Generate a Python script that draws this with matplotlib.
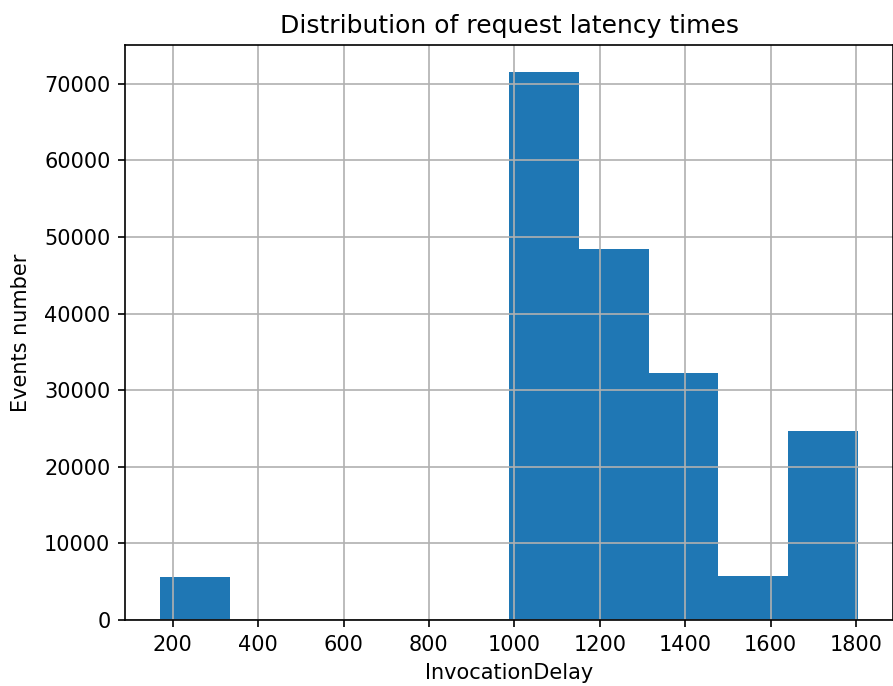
import numpy as np
import matplotlib
matplotlib.use("Agg")
import matplotlib.pyplot as plt

# Histogram of invocation delays: 10 equal-width bins
delay_min = 170.0
delay_max = 1805.0
n_bins = 10
bin_counts = [5650, 0, 0, 0, 0, 71480, 48400, 32200, 5700, 24700]

bin_edges = np.linspace(delay_min, delay_max, n_bins + 1)
bin_left = bin_edges[:-1]

DPI = 150
W, H = 893, 686
fig = plt.figure(figsize=(W / DPI, H / DPI), dpi=DPI)
ax = fig.add_axes([125 / W, 66 / H, 768 / W, 575 / H])

ax.hist(bin_left, bins=bin_edges, weights=bin_counts, color="#1f77b4")
ax.grid(True)
ax.set_title("Distribution of request latency times")
ax.set_xlabel("InvocationDelay")
ax.set_ylabel("Events number", labelpad=6.5)
ax.set_xticks([200, 400, 600, 800, 1000, 1200, 1400, 1600, 1800])

fig.savefig("out.png", dpi=DPI)
